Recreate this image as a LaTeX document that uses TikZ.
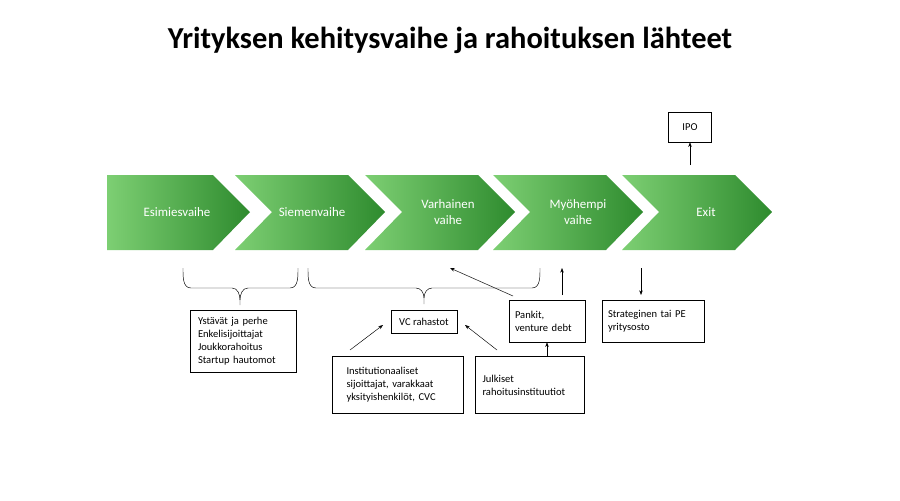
\documentclass[tikz,border=0pt]{standalone}
\usepackage{fontspec}
\setmainfont{Carlito}
\usetikzlibrary{arrows.meta}

\definecolor{lightgrn}{HTML}{7DCF73}
\definecolor{darkgrn}{HTML}{2E8B2E}

\begin{document}
\begin{tikzpicture}[x=0.03cm,y=-0.03cm,
    stage/.style={left color=lightgrn, right color=darkgrn, draw=none},
    stagetext/.style={text=white, font=\fontsize{11}{13}\selectfont, align=center},
    src/.style={draw, thin, font=\fontsize{9}{11}\selectfont, align=left, inner sep=0pt},
    flow/.style={-{Stealth[length=4pt]}, thin},
    brace/.style={thin}]
    \useasboundingbox (0,0) rectangle (900,500);
    \node[font=\bfseries\fontsize{26}{30}\selectfont] (title) at (450,40) {Yrityksen kehitysvaihe ja rahoituksen lähteet};
    % chevrons
    \shade[stage] (107,175) -- (213,175) -- (250,212) -- (213,250) -- (107,250) -- cycle;
    \foreach \x in {235,365,493,622}
        \shade[stage] (\x,175) -- (\x+113,175) -- (\x+150,212) -- (\x+113,250) -- (\x,250) -- (\x+37,212) -- cycle;
    \node[stagetext] (esi) at (177,212) {Esimiesvaihe};
    \node[stagetext] (sie) at (312,212) {Siemenvaihe};
    \node[stagetext] (var) at (448,212) {Varhainen\\vaihe};
    \node[stagetext] (myo) at (578,212) {Myöhempi\\vaihe};
    \node[stagetext] (exit) at (706,212) {Exit};
    % braces
    \draw[brace] (183,268) to[out=-90,in=180] (191,288) -- (232,288) to[out=0,in=90] (240,300) -- (240,305);
    \draw[brace] (240,300) to[out=90,in=180] (248,288) -- (290,288) to[out=0,in=-90] (298,268);
    \draw[brace] (308,268) to[out=-90,in=180] (316,288) -- (416,288) to[out=0,in=90] (424,298) -- (424,304);
    \draw[brace] (424,298) to[out=90,in=180] (432,288) -- (532,288) to[out=0,in=-90] (540,268);
    % boxes
    \node[draw, thin, font=\fontsize{9}{11}\selectfont, minimum width=43*0.03cm, minimum height=30*0.03cm] (ipo) at (690,127) {IPO};
    \node[src, text width=90*0.03cm, minimum height=62*0.03cm, inner xsep=8*0.03cm] (ystavat) at (243,341) {Ystävät ja perhe\\Enkelisijoittajat\\Joukkorahoitus\\Startup hautomot};
    \node[draw, thin, font=\fontsize{9}{11}\selectfont, minimum width=66*0.03cm, minimum height=23*0.03cm] (vc) at (424,322) {VC rahastot};
    \node[src, text width=64*0.03cm, minimum height=42*0.03cm, inner xsep=6*0.03cm] (pankit) at (547,321) {Pankit,\\venture debt};
    \node[src, text width=90*0.03cm, minimum height=42*0.03cm, inner xsep=6*0.03cm] (strat) at (653,321) {Strateginen tai PE\\yritysosto};
    \node[src, text width=103*0.03cm, minimum height=57*0.03cm, inner xsep=14*0.03cm] (inst) at (398,385) {Institutionaaliset\\sijoittajat, varakkaat\\yksityishenkilöt, CVC};
    \node[src, text width=95*0.03cm, minimum height=57*0.03cm, inner xsep=7*0.03cm] (julk) at (530,385) {Julkiset\\rahoitusinstituutiot};
    % connectors
    \coordinate (pk) at (450,268);
    \coordinate (myo-up) at (562,268);
    \coordinate (exit-dn) at (641,268);
    \draw[flow] (690,165) -- (ipo.south);
    \draw[flow] (513,296) -- (pk);
    \draw[flow] (562,295) -- (myo-up);
    \draw[flow] (exit-dn) -- (641,295);
    \draw[flow] (350,350) -- (383,325);
    \draw[flow] (497,350) -- (465,325);
    \draw[flow] (julk.north -| pankit.south) -- (pankit.south);
\end{tikzpicture}
\end{document}
